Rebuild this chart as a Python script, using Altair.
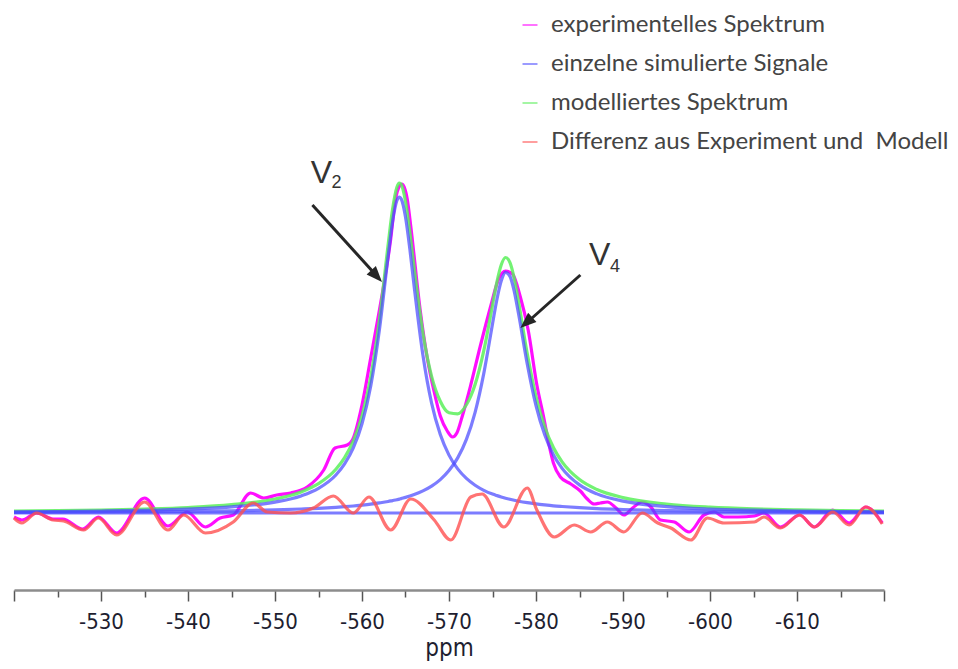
import altair as alt
import pandas as pd

# ---------------- data ----------------
# smooth curves (fitted signals and model), sampled on a ppm grid
grid_ppm = [-520, -525, -530, -535, -540, -545, -550, -553, -555, -557, -558, -559, -560,
            -561, -562, -563, -563.5, -564, -564.3, -564.5, -565, -565.5, -566, -567, -568,
            -569, -570, -571, -572, -573, -574, -575, -575.5, -576, -576.5, -577, -577.5,
            -578, -579, -580, -581, -582, -583, -585, -587, -590, -595, -600, -605, -610,
            -615, -620]
v2_signal = [1.2, 1.5, 2.0, 2.7, 3.9, 6.1, 10.9, 17.1, 24.6, 38.0, 49.1, 65.1, 89.3,
             126.7, 183.1, 256.5, 290.5, 312.2, 316.0, 314.3, 296.1, 263.9, 226.3, 158.0, 109.8,
             78.4, 57.9, 44.1, 34.6, 27.8, 22.7, 18.9, 17.4, 16.0, 14.8, 13.7, 12.7,
             11.8, 10.3, 9.1, 8.1, 7.2, 6.5, 5.3, 4.4, 3.5, 2.4, 1.8, 1.4, 1.1,
             0.9, 0.7]
v4_signal = [0.7, 0.8, 1.0, 1.3, 1.7, 2.2, 3.1, 4.0, 4.7, 5.7, 6.3, 7.0, 7.9,
             8.9, 10.1, 11.5, 12.4, 13.3, 13.9, 14.4, 15.6, 16.9, 18.4, 22.1, 26.9,
             33.4, 42.4, 55.1, 73.6, 100.7, 139.6, 189.0, 213.3, 232.0, 240.7, 236.9, 221.7,
             199.0, 148.8, 107.4, 78.2, 58.3, 44.6, 28.1, 19.1, 11.9, 6.4, 4.0, 2.8, 2.0,
             1.5, 1.2]
model_spectrum = [1.9, 2.3, 3.0, 4.0, 5.5, 8.3, 14.0, 21.1, 29.3, 43.7, 55.4, 72.1, 97.2,
                  135.6, 193.2, 268.0, 302.9, 325.5, 329.9, 328.7, 311.7, 280.8, 244.7, 180.1, 136.7,
                  111.8, 100.3, 99.2, 108.2, 128.5, 162.3, 207.9, 230.7, 248.0, 255.5, 250.6, 234.4,
                  210.8, 159.1, 116.5, 86.3, 65.5, 51.1, 33.4, 23.5, 15.4, 8.9, 5.8, 4.1, 3.1,
                  2.4, 1.9]
baseline_ppm = [-520, -620]
baseline_int = [0, 0]

# experimental spectrum
exp_ppm = [-520.0, -520.9, -522.6, -524.5, -525.6, -527.9, -529.7, -531.8, -535.0, -537.7,
           -539.9, -542.0, -543.7, -545.2, -547.2, -548.7, -550.2, -551.8, -553.7, -555.6,
           -556.9, -558.3, -558.9, -560.0, -561.0, -561.9, -562.5, -563.3, -563.8, -564.4,
           -564.6, -565.2, -565.6, -566.7, -567.5, -568.3, -569.0, -569.8, -570.4, -570.9,
           -571.5, -572.5, -573.6, -574.8, -575.7, -576.5, -577.3, -578.2, -579.1, -580.1,
           -580.9, -581.5, -582.0, -582.8, -584.0, -585.1, -585.9, -586.7, -587.4, -588.2,
           -589.2, -590.1, -591.1, -592.2, -593.2, -594.3, -595.9, -597.6, -599.3, -600.5,
           -601.6, -603.2, -605.1, -606.2, -608.1, -610.3, -612.0, -614.1, -616.0, -617.9,
           -619.8]
exp_int = [-4, -7, 0, -6, -6, -16, -4, -20, 15, -13,
           1, -14, -5, -2, 20, 15, 18, 20, 26, 43,
           65, 68, 73, 108, 155, 198, 228, 274, 311, 328,
           329, 314, 287, 202, 155, 121, 97, 82, 76, 80,
           96, 128, 167, 207, 234, 242, 239, 216, 183, 128,
           95, 68, 50, 36, 29, 22, 14, 9, 10, 11,
           5, -2, 5, 11, 6, -7, -9, -19, -2, 1,
           -4, -4, -3, 0, -14, -2, -14, 3, -10, 6,
           -10]

# difference experiment - model
diff_ppm = [-520.0, -520.9, -522.6, -524.5, -525.7, -528.0, -529.7, -531.8, -535.0, -537.7,
            -539.5, -542.0, -545.2, -547.5, -549.1, -551.8, -554.4, -556.7, -559.0, -560.8,
            -563.3, -565.6, -568.3, -570.2, -572.5, -573.8, -576.3, -579.0, -580.1, -582.1,
            -584.4, -586.3, -588.2, -590.1, -592.2, -594.0, -595.5, -597.8, -599.7, -601.6,
            -605.1, -606.2, -608.1, -610.3, -612.0, -614.1, -616.0, -617.9, -619.8]
diff_int = [-5, -10, 0, -7, -8, -17, -5, -22, 11, -17,
            -2, -20, -9, 10, 1, 0, 5, 17, 0, 16,
            -17, 14, -7, -27, 16, 19, -14, 25, 3, -24,
            -12, -19, -9, -19, 0, -10, -15, -27, -5, -10,
            -9, -4, -15, -2, -14, 1, -12, 6, -11]

series_names = ["experimentelles Spektrum", "einzelne simulierte Signale",
                "modelliertes Spektrum", "Differenz aus Experiment und\u00a0 Modell"]
series_colors = ["#ff00ff", "#4a4aff", "#5af05a", "#ff5050"]

tick_values = [-620, -615, -610, -605, -600, -595, -590, -585, -580, -575, -570,
               -565, -560, -555, -550, -545, -540, -535, -530, -525, -520]

# annotations (peak labels and arrows), in data units
label_main = ["V", "V"]
label_main_ppm = [-554.1, -586.1]
label_main_int = [330, 248]
label_sub = ["2", "4"]
label_sub_ppm = [-556.5, -588.5]
label_sub_int = [325, 241]
arrow_start_ppm = [-554.3, -585.1]
arrow_start_int = [308, 238]
arrow_end_ppm = [-561.7, -578.9]
arrow_end_int = [237, 190]
arrow_tip_ppm = [-562.3, -578.2]
arrow_tip_int = [231, 185]
arrow_angle = [137.6, 228.4]

# ---------------- build tables ----------------
def frame(x, y, series, curve):
    return pd.DataFrame({"ppm": x, "intensity": y, "series": series, "curve": curve})

df_exp = frame(exp_ppm, exp_int, series_names[0], "exp")
df_sig = pd.concat([
    frame(grid_ppm, v2_signal, series_names[1], "v2"),
    frame(grid_ppm, v4_signal, series_names[1], "v4"),
    frame(baseline_ppm, baseline_int, series_names[1], "base"),
])
df_mod = frame(grid_ppm, model_spectrum, series_names[2], "model")
df_diff = frame(diff_ppm, diff_int, series_names[3], "diff")

df_arrow = pd.DataFrame({"ppm": arrow_start_ppm, "intensity": arrow_start_int,
                         "ppm2": arrow_end_ppm, "intensity2": arrow_end_int})
df_tip = pd.DataFrame({"ppm": arrow_tip_ppm, "intensity": arrow_tip_int, "angle": arrow_angle})
df_lab = pd.DataFrame({"ppm": label_main_ppm, "intensity": label_main_int, "t": label_main})
df_sub = pd.DataFrame({"ppm": label_sub_ppm, "intensity": label_sub_int, "t": label_sub})

tick_font = "DejaVu Sans Condensed, Liberation Sans Narrow, DejaVu Sans"

x_enc = alt.X(
    "ppm:Q",
    scale=alt.Scale(domain=[-620, -520], reverse=True, nice=False, zero=False),
    axis=alt.Axis(
        values=tick_values,
        labelExpr="(datum.value % 10 == 0 && datum.value > -620 && datum.value < -520) ? ('' + datum.value) : ''",
        tickSize={"condition": {"test": "datum.value % 10 == 0", "value": 11}, "value": 7},
        tickColor="#555555", tickWidth=1.5,
        domainColor="#8c8c8c", domainWidth=2.5,
        labelFont=tick_font, labelFontSize=22, labelColor="#1e1e30",
        labelPadding=10, labelOverlap=False,
        titleFont=tick_font, titleFontSize=24, titleFontWeight="normal",
        titleColor="#1e1e30", titleBaseline="bottom", titleY=70, grid=False,
    ),
    title="ppm",
)
y_enc = alt.Y("intensity:Q", scale=alt.Scale(domain=[-77, 505], nice=False, zero=False), axis=None)
color_enc = alt.Color(
    "series:N",
    scale=alt.Scale(domain=series_names, range=series_colors),
    legend=alt.Legend(
        title=None, orient="none", legendX=504, legendY=5, direction="vertical",
        symbolType="stroke", symbolSize=225, symbolStrokeWidth=2, symbolOpacity=0.55,
        labelFont="Lato", labelFontSize=24, labelColor="#444444", labelLimit=600,
        labelOffset=9, rowPadding=15, padding=0,
    ),
)

def line_layer(df, opacity):
    return alt.Chart(df).mark_line(strokeWidth=3.2, opacity=opacity, interpolate="monotone").encode(
        x=x_enc, y=y_enc, color=color_enc, detail="curve:N"
    )

l_exp = line_layer(df_exp, 0.95)
l_mod = line_layer(df_mod, 0.85)
l_sig = line_layer(df_sig, 0.72)
l_diff = line_layer(df_diff, 0.8)

arrows = alt.Chart(df_arrow).mark_rule(strokeWidth=3, color="#262626").encode(
    x=x_enc, y=y_enc, x2=alt.X2("ppm2:Q"), y2=alt.Y2("intensity2:Q")
)
tips = alt.Chart(df_tip).mark_point(
    shape="M0,0L-0.55,1.4L0.55,1.4Z", filled=True, size=520, color="#262626", opacity=1
).encode(x=x_enc, y=y_enc, angle=alt.Angle("angle:Q", scale=None))
labs = alt.Chart(df_lab).mark_text(
    align="left", baseline="alphabetic", fontSize=32, font="Liberation Sans", color="#333333"
).encode(x=x_enc, y=y_enc, text="t:N")
subs = alt.Chart(df_sub).mark_text(
    align="left", baseline="alphabetic", fontSize=18, font="Liberation Sans", color="#333333"
).encode(x=x_enc, y=y_enc, text="t:N")

chart = alt.layer(l_exp, l_mod, l_sig, l_diff, arrows, tips, labs, subs).properties(
    width=870, height=582, autosize="none",
    padding={"left": 6, "top": 0, "right": 66, "bottom": 71},
).configure_view(stroke=None)

chart.save("out.html", embed_options={"renderer": "svg", "actions": False})
